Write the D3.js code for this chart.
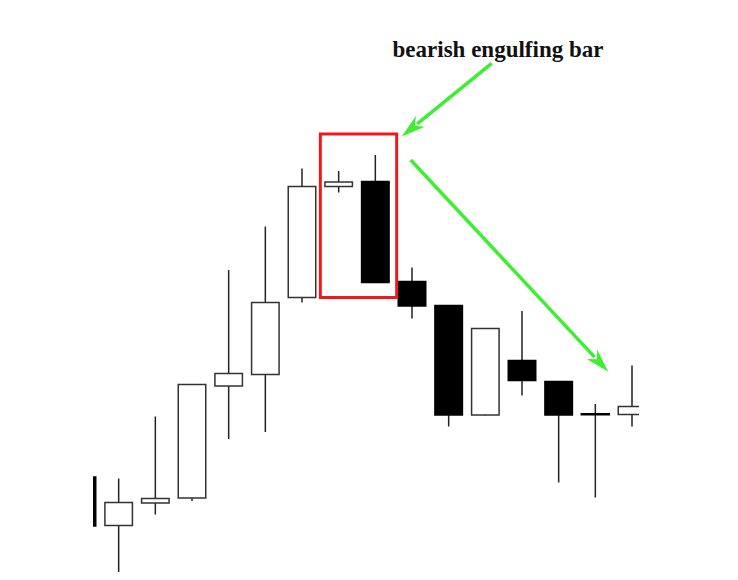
<!DOCTYPE html>
<html>
<head>
<meta charset="utf-8">
<script src="https://cdn.jsdelivr.net/npm/d3@7"></script>
<style>
  html, body { margin: 0; padding: 0; background: #fff; }
  svg { display: block; }
</style>
</head>
<body>
<div id="chart"></div>
<script>
// candle values (price units)
var opens  = [20.6, 10.9, 15.4, 16.4, 38.8, 41.1, 56.5, 78.7, 79.7, 59.7, 54.9, 33.0, 43.9, 39.7, 33.2, 33.1];
var highs  = [20.6, 20.3, 32.7, 39.1, 62.0, 70.7, 82.3, 81.8, 85.0, 62.5, 54.9, 50.4, 53.8, 39.8, 35.2, 42.9];
var lows   = [10.8,  1.6, 13.1, 15.8, 28.2, 29.6, 55.5, 77.5, 59.5, 52.3, 30.7, 32.9, 36.9, 19.5, 16.5, 30.7];
var closes = [10.8, 15.5, 16.3, 39.1, 41.3, 55.5, 78.7, 79.6, 59.5, 54.8, 33.0, 50.3, 39.9, 33.0, 33.2, 34.7];
var label = "bearish engulfing bar";
var highlight = [7, 8]; // the boxed pair

var width = 738, height = 580;

var candles = opens.map(function (o, i) {
	return { i: i, open: o, high: highs[i], low: lows[i], close: closes[i] };
});

var x = d3.scalePoint()
	.domain(d3.range(candles.length))
	.range([82, 632]);
var step = x.step();
var bodyW = step * 0.75;

var y = d3.scaleLinear()
	.domain([0, 100])
	.range([580, 80]);

var svg = d3.select("#chart")
	.append("svg")
	.attr("width", width)
	.attr("height", height);

svg.append("defs").append("clipPath")
	.attr("id", "plotclip")
	.append("rect")
	.attr("x", 93)
	.attr("y", 0)
	.attr("width", 546)
	.attr("height", height);

var plot = svg.append("g").attr("clip-path", "url(#plotclip)");

// wicks
plot.selectAll(".wick")
	.data(candles)
	.enter().append("line")
	.attr("class", "wick")
	.attr("x1", function (d) { return x(d.i); })
	.attr("x2", function (d) { return x(d.i); })
	.attr("y1", function (d) { return y(d.high); })
	.attr("y2", function (d) { return y(d.low); })
	.style("stroke", "#222")
	.style("stroke-width", 1.5);

// bodies
plot.selectAll(".body")
	.data(candles)
	.enter().append("rect")
	.attr("class", "body")
	.attr("x", function (d) { return x(d.i) - bodyW / 2; })
	.attr("y", function (d) { return y(Math.max(d.open, d.close)); })
	.attr("width", bodyW)
	.attr("height", function (d) { return Math.max(0.5, Math.abs(y(d.open) - y(d.close))); })
	.style("fill", function (d) { return d.close > d.open ? "#fff" : "#000"; })
	.style("stroke", function (d) { return d.close > d.open ? "#333" : "#000"; })
	.style("stroke-width", function (d) { return d.close === d.open ? 2 : 1.5; });

// highlight box around the engulfing pair
var hc = highlight.map(function (i) { return candles[i]; });
var boxL = x(highlight[0]) - step / 2,
	boxR = x(highlight[1]) + step / 2 + 3,
	boxT = y(d3.max(hc, function (d) { return d.high; })) - 21,
	boxB = y(d3.min(hc, function (d) { return d.low; })) + 15;

svg.append("rect")
	.attr("x", boxL)
	.attr("y", boxT)
	.attr("width", boxR - boxL)
	.attr("height", boxB - boxT)
	.style("fill", "none")
	.style("stroke", "#f01818")
	.style("stroke-width", 3);

// label
svg.append("text")
	.attr("x", 498)
	.attr("y", 57)
	.attr("text-anchor", "middle")
	.style("font-family", "'Liberation Serif', 'Times New Roman', serif")
	.style("font-weight", "bold")
	.style("font-size", "23px")
	.style("fill", "#111")
	.text(label);

// green arrows
var green = "#3cef32";
function arrow(x1, y1, x2, y2) {
	var ang = Math.atan2(y2 - y1, x2 - x1);
	var len = 24, half = 7;
	var bx = x2 - len * Math.cos(ang), by = y2 - len * Math.sin(ang);
	svg.append("line")
		.attr("x1", x1).attr("y1", y1)
		.attr("x2", x2 - (len - 4) * Math.cos(ang))
		.attr("y2", y2 - (len - 4) * Math.sin(ang))
		.style("stroke", green)
		.style("stroke-width", 3.5);
	var pts = [
		[x2, y2],
		[bx - half * Math.sin(ang), by + half * Math.cos(ang)],
		[x2 - (len - 7) * Math.cos(ang), y2 - (len - 7) * Math.sin(ang)],
		[bx + half * Math.sin(ang), by - half * Math.cos(ang)]
	];
	svg.append("path")
		.attr("d", d3.line()(pts) + "Z")
		.style("fill", green);
}

arrow(491.7, 63.3, 401.7, 136.5);
arrow(410.7, 160, 608.3, 371.7);
</script>
</body>
</html>
